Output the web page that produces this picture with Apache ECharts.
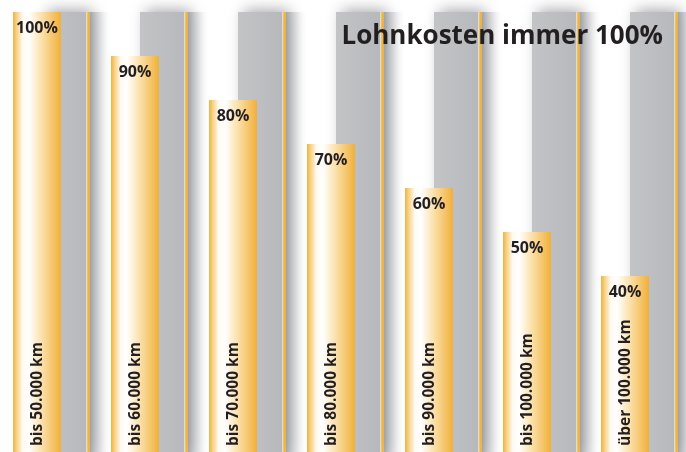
<!DOCTYPE html>
<html>
<head>
<meta charset="utf-8">
<script src="https://cdn.jsdelivr.net/npm/echarts@6/dist/echarts.min.js"></script>
<style>
html,body{margin:0;padding:0;background:#fff;}
#chart{width:686px;height:452px;}
</style>
</head>
<body>
<div id="chart"></div>
<script>
const categories = ['bis 50.000 km','bis 60.000 km','bis 70.000 km','bis 80.000 km','bis 90.000 km','bis 100.000 km','über 100.000 km'];
const costShare = [100, 90, 80, 70, 60, 50, 40];
const wageCost = [100, 100, 100, 100, 100, 100, 100];
const titleText = 'Lohnkosten immer 100%';

const chart = echarts.init(document.getElementById('chart'), null, {renderer:'canvas'});
const FONT = '"Open Sans", "Noto Sans", sans-serif';

function goldFill(){
  return new echarts.graphic.LinearGradient(0,0,1,0,[
    {offset:0, color:'#f1b23c'},
    {offset:0.07, color:'#f7cf7e'},
    {offset:0.2, color:'#fffaf1'},
    {offset:0.33, color:'#ffffff'},
    {offset:0.6, color:'#fbe0aa'},
    {offset:0.85, color:'#f5c264'},
    {offset:1, color:'#f0b038'}
  ]);
}

const option = {
  animation:false,
  backgroundColor:'#ffffff',
  title:{
    text:titleText, right:18, top:19,
    textStyle:{fontFamily:FONT, fontWeight:'bold', fontSize:26, color:'#231f20'}
  },
  grid:{left:0, top:12, width:686, height:442},
  xAxis:{type:'category', data:categories, show:false},
  yAxis:{type:'value', min:0, max:100, show:false},
  series:[
    {
      type:'custom', z:1, clip:false,
      data: wageCost.map((v,i)=>[i,v]),
      renderItem:function(params, api){
        const top = api.coord([api.value(0), api.value(1)]);
        const base = api.coord([api.value(0), 0]);
        const band = api.size([1,0])[0];
        const left = top[0] - band/2;
        const s = band/98;
        return {type:'group', children:[
          {type:'rect', shape:{x:left+42*s, y:top[1], width:45*s, height:base[1]-top[1]},
           style:{fill:new echarts.graphic.LinearGradient(0,0,1,0,[
             {offset:0,color:'#c3c4c6'},{offset:0.6,color:'#bcbdc0'},{offset:1,color:'#b6b8bb'}]),
             shadowBlur:14, shadowOffsetX:6, shadowOffsetY:-2, shadowColor:'rgba(60,60,70,0.45)'}},
          {type:'rect', shape:{x:left+89.5*s, y:top[1], width:22*s, height:base[1]-top[1]},
           style:{fill:new echarts.graphic.LinearGradient(0,0,1,0,[
             {offset:0,color:'rgba(150,152,156,0.85)'},{offset:0.5,color:'rgba(200,201,204,0.5)'},{offset:1,color:'rgba(255,255,255,0)'}])}},
          {type:'rect', shape:{x:left+86.5*s, y:top[1], width:1*s, height:base[1]-top[1]},
           style:{fill:'#ffffff'}},
          {type:'rect', shape:{x:left+87.3*s, y:top[1], width:2.4*s, height:base[1]-top[1]},
           style:{fill:'#f6b52e'}}
        ]};
      }
    },
    {
      type:'custom', z:3, clip:false,
      data: costShare.map((v,i)=>[i,v]),
      renderItem:function(params, api){
        const i = api.value(0);
        const top = api.coord([i, api.value(1)]);
        const base = api.coord([i, 0]);
        const band = api.size([1,0])[0];
        const left = top[0] - band/2;
        const s = band/98;
        const cx = left + 37*s;
        return {type:'group', children:[
          {type:'rect', shape:{x:left+13*s, y:top[1], width:48*s, height:base[1]-top[1]},
           style:{fill:goldFill()}},
          {type:'text', x:cx, y:top[1]+16,
           style:{text:api.value(1)+'%', font:'bold 16px '+FONT, fill:'#231f20', align:'center', verticalAlign:'middle'}},
          {type:'text', x:cx+1, y:446, rotation:Math.PI/2,
           style:{text:categories[i], font:'bold 15.5px '+FONT, fill:'#231f20', align:'left', verticalAlign:'middle'}}
        ]};
      }
    }
  ]
};
chart.setOption(option);
</script>
</body>
</html>
